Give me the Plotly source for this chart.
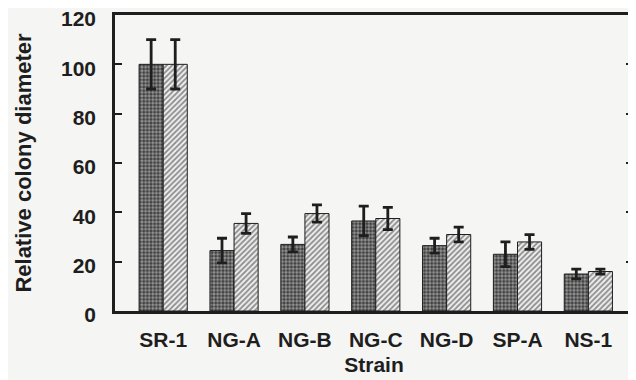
import plotly.graph_objects as go

strains = ["SR-1", "NG-A", "NG-B", "NG-C", "NG-D", "SP-A", "NS-1"]
series_a = [100, 24.5, 27, 36.5, 26.5, 23, 15]
err_a = [10, 5, 3, 6, 3, 5, 2]
series_b = [100, 35.5, 39.5, 37.5, 31, 28, 16]
err_b = [10, 4, 3.5, 4.5, 3, 3, 1]
y_ticks = [0, 20, 40, 60, 80, 100, 120]

font_fam = "Liberation Sans, Arial, Helvetica, sans-serif"
ink = "#1e1e1e"
bg = "#f5f5f3"

fig = go.Figure()
fig.add_trace(go.Bar(
    x=strains, y=series_a,
    error_y=dict(type="data", array=err_a, color=ink, thickness=2.8, width=5),
    marker=dict(color="#3a3a3a", line=dict(color=ink, width=1),
                pattern=dict(shape=".", size=3.6, solidity=0.58, fgcolor="#e8e8e8", bgcolor="#383838")),
    showlegend=False,
))
fig.add_trace(go.Bar(
    x=strains, y=series_b,
    error_y=dict(type="data", array=err_b, color=ink, thickness=2.8, width=5),
    marker=dict(color="#f0f0f0", line=dict(color=ink, width=1),
                pattern=dict(shape="/", size=3.8, solidity=0.52, fgcolor="#2e2e2e", bgcolor="#f2f2f2")),
    showlegend=False,
))

# The page puts the figure 8px in from the top-left corner, margins account for that.
fig.update_layout(
    width=636, height=380,
    margin=dict(l=107, r=11, t=7, b=77),
    paper_bgcolor=bg, plot_bgcolor=bg,
    barmode="group", bargap=0.32, bargroupgap=0,
    font=dict(family=font_fam, color=ink, size=21, weight="bold"),
)
fig.update_xaxes(
    range=[-0.68, 6.63], showline=True, linewidth=2.5, linecolor=ink,
    mirror=True, ticks="", showgrid=False, zeroline=False, automargin=False,
    ticklabelstandoff=8,
    tickfont=dict(size=21, family=font_fam, weight="bold"),
    title=dict(text="Strain", font=dict(size=21, family=font_fam, weight="bold"), standoff=8),
)
fig.update_yaxes(
    range=[0, 120], tickvals=y_ticks, showline=True, linewidth=2.5, linecolor=ink,
    mirror="ticks", ticks="inside", ticklen=7, tickwidth=2, tickcolor=ink,
    showgrid=False, zeroline=False, ticklabelstandoff=12, ticklabelshift=4,
    automargin=False, ticklabeloverflow="allow",
    tickfont=dict(size=21, family=font_fam, weight="bold"),
    title=dict(text="Relative colony diameter", font=dict(size=22, family=font_fam, weight="bold"), standoff=24),
)

fig.write_html("out.html")
